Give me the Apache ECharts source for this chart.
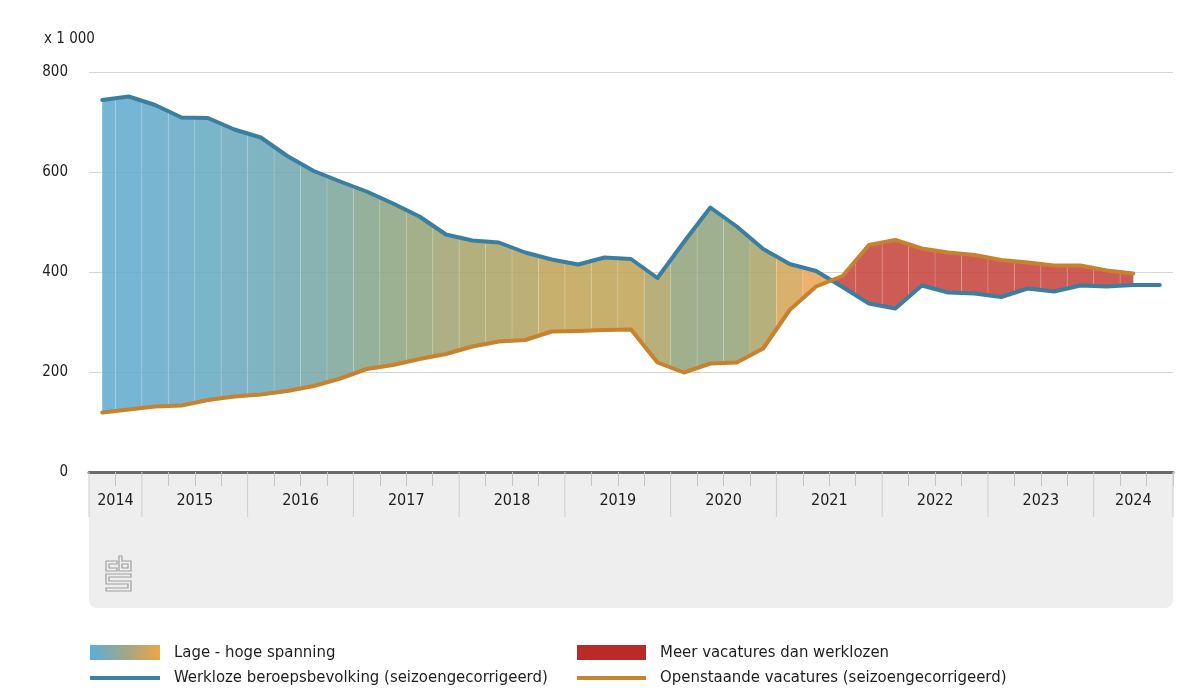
<!DOCTYPE html>
<html>
<head>
<meta charset="utf-8">
<script src="https://cdn.jsdelivr.net/npm/echarts@6/dist/echarts.min.js"></script>
<style>html,body{margin:0;padding:0;background:#fff}#c{width:1200px;height:698px}</style>
</head>
<body>
<div id="c"></div>
<script>
// ---- data (x 1 000) ----
const quarters = [
  '2014 Q3','2014 Q4',
  '2015 Q1','2015 Q2','2015 Q3','2015 Q4',
  '2016 Q1','2016 Q2','2016 Q3','2016 Q4',
  '2017 Q1','2017 Q2','2017 Q3','2017 Q4',
  '2018 Q1','2018 Q2','2018 Q3','2018 Q4',
  '2019 Q1','2019 Q2','2019 Q3','2019 Q4',
  '2020 Q1','2020 Q2','2020 Q3','2020 Q4',
  '2021 Q1','2021 Q2','2021 Q3','2021 Q4',
  '2022 Q1','2022 Q2','2022 Q3','2022 Q4',
  '2023 Q1','2023 Q2','2023 Q3','2023 Q4',
  '2024 Q1','2024 Q2','2024 Q3'
];
const unemployed = [
  744, 751,
  734, 709, 708, 685,
  669, 632, 602, 581,
  561, 537, 511, 475,
  463, 459, 439, 425,
  415, 429, 426, 388,
  460, 529, 491, 446,
  416, 402, 370, 337,
  327, 373, 359, 357,
  350, 367, 361, 373,
  371, 374, 374
];
const vacancies = [
  119, 125,
  131, 133, 144, 151,
  155, 162, 172, 187,
  206, 214, 226, 236,
  251, 261, 264, 281,
  282, 284, 285, 219,
  199, 217, 219, 247,
  324, 371, 392, 454,
  464, 447, 439, 434,
  424, 419, 413, 413,
  403, 397, null
];
const years = ['2014','2015','2016','2017','2018','2019','2020','2021','2022','2023','2024'];
const yTicks = [0, 200, 400, 600, 800];

// ---- styling helpers ----
const FONT = '"DejaVu Sans Condensed", "DejaVu Sans", sans-serif';
const tensionStops = [
  [0.16, [91, 169, 207]],
  [0.41, [141, 162, 123]],
  [0.67, [191, 162, 84]],
  [0.92, [235, 162, 80]]
];
const RED = 'rgba(195,63,55,0.85)';
function tensionColor(r) {
  let c;
  if (r <= tensionStops[0][0]) c = tensionStops[0][1];
  else if (r >= tensionStops[tensionStops.length - 1][0]) c = tensionStops[tensionStops.length - 1][1];
  else {
    for (let k = 0; k < tensionStops.length - 1; k++) {
      const a = tensionStops[k], b = tensionStops[k + 1];
      if (r >= a[0] && r <= b[0]) {
        const t = (r - a[0]) / (b[0] - a[0]);
        c = a[1].map((v, j) => Math.round(v + t * (b[1][j] - v)));
        break;
      }
    }
  }
  return 'rgba(' + c[0] + ',' + c[1] + ',' + c[2] + ',0.85)';
}

const yearSpans = years.map(y => {
  const idx = quarters.map((q, i) => q.startsWith(y) ? i : -1).filter(i => i >= 0);
  return [idx[0], idx[idx.length - 1]];
});

function renderBand(params, api) {
  const i = params.dataIndex;
  const u = unemployed, v = vacancies;
  if (v[i] == null || u[i] == null) return null;
  const bw = api.size([1, 0])[0];
  const xc = api.coord([i, 0])[0];
  const Y = val => api.coord([i, val])[1];
  const hasPrev = i > 0 && v[i - 1] != null;
  const hasNext = i < u.length - 1 && v[i + 1] != null;
  const nodes = [];
  if (hasPrev) nodes.push({ x: xc - bw / 2, u: (u[i - 1] + u[i]) / 2, v: (v[i - 1] + v[i]) / 2 });
  nodes.push({ x: xc, u: u[i], v: v[i] });
  if (hasNext) nodes.push({ x: xc + bw / 2, u: (u[i] + u[i + 1]) / 2, v: (v[i] + v[i + 1]) / 2 });
  const pts = [nodes[0]];
  const flags = [];
  for (let k = 0; k < nodes.length - 1; k++) {
    const A = nodes[k], B = nodes[k + 1];
    const dA = A.u - A.v, dB = B.u - B.v;
    if (dA * dB < 0) {
      const t = dA / (dA - dB);
      const uu = A.u + t * (B.u - A.u);
      pts.push({ x: A.x + t * (B.x - A.x), u: uu, v: uu });
      flags.push(dA < 0);
      pts.push(B);
      flags.push(dB < 0);
    } else {
      pts.push(B);
      flags.push(dA + dB < 0);
    }
  }
  const baseColor = tensionColor(v[i] / u[i]);
  const children = [];
  let start = 0;
  for (let k = 0; k <= flags.length; k++) {
    if (k === flags.length || flags[k] !== flags[start]) {
      const run = pts.slice(start, k + 1);
      const top = run.map(p => [p.x, Y(p.u)]);
      const bot = run.slice().reverse().map(p => [p.x, Y(p.v)]);
      children.push({
        type: 'polygon',
        shape: { points: top.concat(bot) },
        style: { fill: flags[start] ? RED : baseColor }
      });
      start = k;
    }
  }
  if (hasPrev) {
    const p = nodes[0];
    children.push({
      type: 'line',
      shape: { x1: p.x, y1: Y(p.u), x2: p.x, y2: Y(p.v) },
      style: { stroke: 'rgba(255,255,255,0.18)', lineWidth: 1 }
    });
  }
  return { type: 'group', children };
}

function renderYear(params, api) {
  const s = yearSpans[params.dataIndex];
  const bw = api.size([1, 0])[0];
  const x0 = api.coord([s[0], 0])[0] - bw / 2;
  const x1 = api.coord([s[1], 0])[0] + bw / 2;
  const y0 = api.coord([s[0], 0])[1];
  const children = [
    { type: 'line', shape: { x1: x0, y1: y0, x2: x0, y2: y0 + 45 }, style: { stroke: '#cccccc', lineWidth: 1 } },
    { type: 'text', x: (x0 + x1) / 2, y: y0 + 29,
      style: { text: years[params.dataIndex], fontSize: 16, fontFamily: FONT, fill: '#1e1e1e', align: 'center', verticalAlign: 'middle' } }
  ];
  if (params.dataIndex === years.length - 1) {
    children.push({ type: 'line', shape: { x1: x1, y1: y0, x2: x1, y2: y0 + 45 }, style: { stroke: '#cccccc', lineWidth: 1 } });
  }
  return { type: 'group', children };
}

const logoStyle = { fill: 'none', stroke: '#9e9e9e', lineWidth: 1.2 };
const chart = echarts.init(document.getElementById('c'), null, { renderer: 'canvas' });
chart.setOption({
  animation: false,
  backgroundColor: '#ffffff',
  grid: { left: 89, right: 27, top: 72, bottom: 226, containLabel: false },
  xAxis: {
    type: 'category',
    data: quarters,
    boundaryGap: true,
    axisLine: { lineStyle: { color: '#6b6b6b', width: 3 } },
    axisTick: {
      show: true, length: 14,
      interval: (idx) => idx > 0 && !quarters[idx].endsWith('Q1'),
      lineStyle: { color: '#c4c4c4', width: 1 }
    },
    axisLabel: { show: false },
    splitLine: { show: false }
  },
  yAxis: {
    type: 'value',
    min: yTicks[0], max: yTicks[yTicks.length - 1], interval: 200,
    axisLine: { show: false },
    axisTick: { show: false },
    axisLabel: { margin: 21, fontSize: 15, fontFamily: FONT, color: '#1e1e1e' },
    splitLine: { lineStyle: { color: '#d6d6d6', width: 1 } }
  },
  graphic: [
    { type: 'rect', z: -1, shape: { x: 89, y: 472, width: 1084, height: 136, r: [0, 0, 8, 8] }, style: { fill: '#eeeeee' } },
    { type: 'text', x: 44, y: 39, style: { text: 'x 1 000', fontSize: 15, fontFamily: FONT, fill: '#1e1e1e', verticalAlign: 'middle' } },
    { type: 'polygon', shape: { points: [[117,561],[106,561],[106,571],[117,571],[117,568],[109,568],[109,564],[117,564]] }, style: logoStyle },
    { type: 'polygon', shape: { points: [[119,556],[122,556],[122,561],[131,561],[131,571],[119,571]] }, style: logoStyle },
    { type: 'polygon', shape: { points: [[122,564],[128,564],[128,568],[122,568]] }, style: logoStyle },
    { type: 'polygon', shape: { points: [[106,574],[131,574],[131,577],[109,577],[109,581],[131,581],[131,591],[106,591],[106,588],[128,588],[128,584],[106,584]] }, style: logoStyle },
    // legend
    { type: 'rect', shape: { x: 90, y: 645, width: 70, height: 15 },
      style: { fill: new echarts.graphic.LinearGradient(0, 0, 1, 0, [
        { offset: 0, color: '#5aaed8' }, { offset: 0.5, color: '#9ea78c' }, { offset: 1, color: '#eea447' }]) } },
    { type: 'text', x: 174, y: 653, style: { text: 'Lage - hoge spanning', fontSize: 16.6, fontFamily: FONT, fill: '#1e1e1e', verticalAlign: 'middle' } },
    { type: 'rect', shape: { x: 577, y: 645, width: 69, height: 15 }, style: { fill: '#b92b27' } },
    { type: 'text', x: 660, y: 653, style: { text: 'Meer vacatures dan werklozen', fontSize: 16.6, fontFamily: FONT, fill: '#1e1e1e', verticalAlign: 'middle' } },
    { type: 'line', shape: { x1: 90, y1: 678, x2: 160, y2: 678 }, style: { stroke: '#3d82a2', lineWidth: 4 } },
    { type: 'text', x: 174, y: 678, style: { text: 'Werkloze beroepsbevolking (seizoengecorrigeerd)', fontSize: 16.6, fontFamily: FONT, fill: '#1e1e1e', verticalAlign: 'middle' } },
    { type: 'line', shape: { x1: 577, y1: 678, x2: 646, y2: 678 }, style: { stroke: '#c8842f', lineWidth: 4 } },
    { type: 'text', x: 660, y: 678, style: { text: 'Openstaande vacatures (seizoengecorrigeerd)', fontSize: 16.6, fontFamily: FONT, fill: '#1e1e1e', verticalAlign: 'middle' } }
  ],
  series: [
    {
      name: 'spanning', type: 'custom', z: 1, clip: false,
      renderItem: renderBand,
      data: quarters.map((q, i) => [i, unemployed[i]]),
      encode: { x: 0, y: 1 },
      silent: true
    },
    {
      name: 'jaren', type: 'custom', z: 2, clip: false,
      renderItem: renderYear,
      data: yearSpans.map(s => [s[0], 0]),
      encode: { x: 0, y: 1 },
      silent: true
    },
    {
      name: 'Werkloze beroepsbevolking (seizoengecorrigeerd)', type: 'line', z: 3,
      data: unemployed, symbol: 'none',
      lineStyle: { color: '#3a7fa0', width: 4, join: 'round', cap: 'round' },
      itemStyle: { color: '#3a7fa0' }
    },
    {
      name: 'Openstaande vacatures (seizoengecorrigeerd)', type: 'line', z: 4,
      data: vacancies, symbol: 'none', connectNulls: false,
      lineStyle: { color: '#c8822f', width: 4, join: 'round', cap: 'round' },
      itemStyle: { color: '#c8822f' }
    }
  ]
});
</script>
</body>
</html>
